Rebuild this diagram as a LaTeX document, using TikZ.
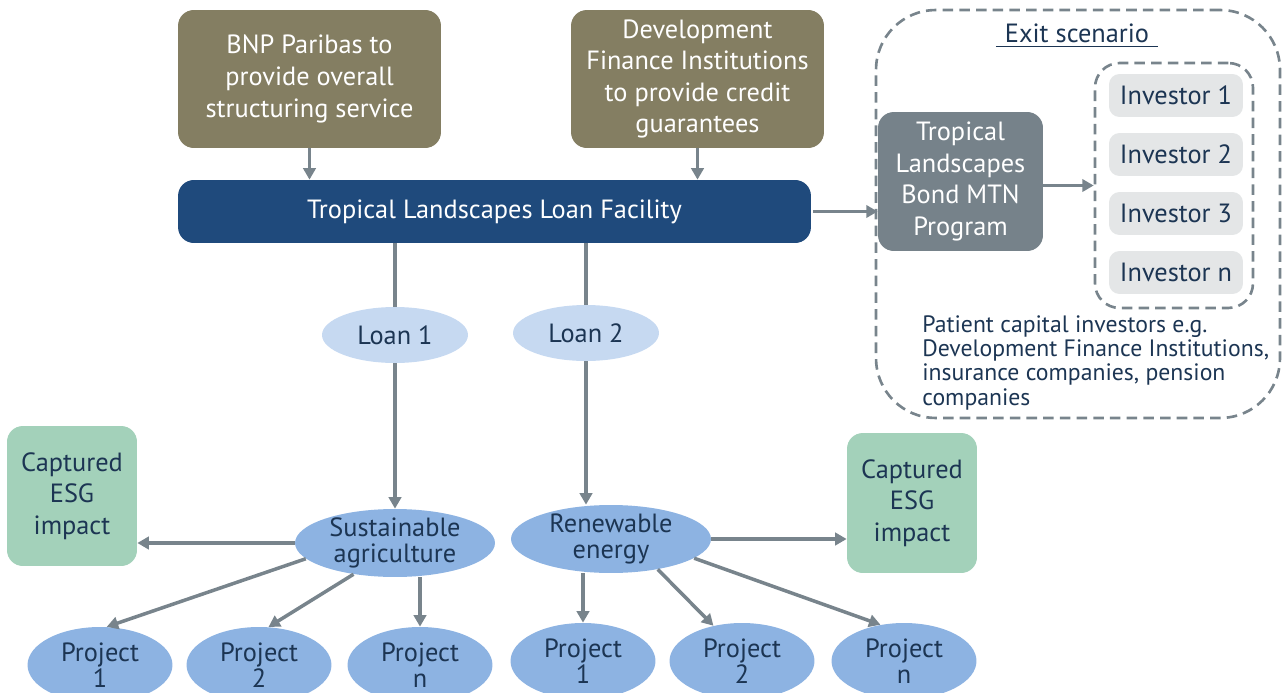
\documentclass[tikz,border=0pt]{standalone}
\usepackage{fontspec}
\setmainfont{PT Sans}
\usetikzlibrary{shapes.geometric,arrows.meta}
\definecolor{boxolive}{HTML}{847E62}
\definecolor{facblue}{HTML}{1F4A7C}
\definecolor{mtngray}{HTML}{76828A}
\definecolor{invgray}{HTML}{E4E6E7}
\definecolor{loanblue}{HTML}{C6D9F1}
\definecolor{secblue}{HTML}{8DB3E2}
\definecolor{esggreen}{HTML}{A3D1BA}
\definecolor{linegray}{HTML}{78848C}
\definecolor{darktext}{HTML}{1C3553}

\begin{document}
\begin{tikzpicture}[x=0.02cm,y=-0.02cm]
\tikzset{
  txt/.style={align=center, inner sep=0pt, font=\fontsize{15}{18}\selectfont},
  rbox/.style={txt, rounded corners=9pt},
  topbox/.style={rbox, fill=boxolive, text=white, minimum width=#1, minimum height=2.76cm},
  invbox/.style={rbox, rounded corners=6pt, fill=invgray, text=darktext, minimum width=2.68cm, minimum height=0.86cm},
  esgbox/.style={rbox, fill=esggreen, text=darktext, minimum width=2.6cm, minimum height=2.8cm},
  oval/.style={ellipse, txt, inner sep=-4pt, text=darktext, font=\fontsize{15}{14.7}\selectfont},
  loan/.style={oval, fill=loanblue, minimum width=2.92cm, minimum height=1.12cm},
  sector/.style={oval, fill=secblue, minimum width=4cm, minimum height=1.36cm},
  proj/.style={oval, fill=secblue, minimum width=2.9cm, minimum height=1.52cm},
  dashbox/.style={draw=linegray, line width=1.5pt, dash pattern=on 6pt off 3.5pt},
  link/.style={draw=linegray, line width=2pt},
  arr/.style={link, -{Triangle[length=6.5pt,width=7pt]}}
}
\useasboundingbox (0,0) rectangle (1282,693);
\clip (0,0) rectangle (1282,693);

% Top
\node[topbox=5.26cm] (bnp) at (309.5,79) {BNP Paribas to\\provide overall\\structuring service};
\node[topbox=5.06cm] (dfi) at (697.5,79) {Development\\Finance Institutions\\to provide credit\\guarantees};
\node[rbox, fill=facblue, text=white, minimum width=12.66cm, minimum height=1.26cm] (fac) at (494.5,211.5) {Tropical Landscapes Loan Facility};

% Exit scenario
\node[dashbox, rounded corners=34pt, minimum width=8.08cm, minimum height=8.16cm] (exit) at (1078,214) {};
\node[txt, text=darktext, inner xsep=5pt, inner ysep=2pt] (exittitle) at (1077,33) {Exit scenario};
\draw[darktext, line width=0.8pt] (exittitle.south west) -- (exittitle.south east);
\node[rbox, fill=mtngray, text=white, minimum width=3.3cm, minimum height=2.78cm] (mtn) at (960.5,181.5) {Tropical\\Landscapes\\Bond MTN\\Program};
\node[dashbox, rounded corners=14pt, minimum width=3.16cm, minimum height=4.9cm] (inv) at (1174,185.5) {};
\foreach \i/\y in {1/95.5,2/154.5,3/213.5,n/272.5}
  \node[invbox] (inv\i) at (1176,\y) {Investor \i};
\node[anchor=north west, align=left, inner sep=0pt, text=darktext, font=\fontsize{13.5}{13.9}\selectfont] (patient) at (922,315)
  {Patient capital investors e.g.\\Development Finance Institutions,\\insurance companies, pension\\companies};

% Loans and sectors
\node[loan] (loan1) at (395,335) {Loan 1};
\node[loan] (loan2) at (586,333) {Loan 2};
\node[sector] (sust) at (395,543) {Sustainable\\agriculture};
\node[sector] (renew) at (611,539) {Renewable\\energy};
\node[esgbox] (esgL) at (72,496) {Captured\\ESG\\impact};
\node[esgbox] (esgR) at (912,503) {Captured\\ESG\\impact};

% Projects
\foreach \i/\x in {1/100,2/259,n/420}
  \node[proj] (p\i) at (\x,665) {Project\\\i};
\foreach \i/\x in {1/583,2/742,n/904}
  \node[proj] (q\i) at (\x,661) {Project\\\i};

% Connectors
\draw[arr] (bnp.south) -- (bnp.south |- fac.north);
\draw[arr] (dfi.south) -- (dfi.south |- fac.north);
\draw[arr] (fac.east) ++(2,0) -- (fac.east -| mtn.west);
\draw[arr] (mtn.east |- inv.west) -- (inv.west);
\draw[link] (loan1.north |- fac.south) -- (loan1.north);
\draw[link] (loan2.north |- fac.south) -- (loan2.north);
\draw[arr] (loan1.south) -- (sust.north);
\draw[arr] (loan2.south) -- (loan2.south |- renew.north);
\draw[arr] (sust.west) -- (sust.west -| esgL.east);
\draw[arr] (renew.east) -- (renew.east -| esgR.west);
\draw[arr] (sust.190) -- (p1.80);
\draw[arr] (sust.217) -- (p2.76);
\draw[arr] (pn.north |- sust.south) -- (pn.north);
\draw[arr] (q1.north |- renew.south) -- (q1.north);
\draw[arr] (renew.327) -- (q2.129);
\draw[arr] (renew.347) -- (qn.123);
\end{tikzpicture}
\end{document}
